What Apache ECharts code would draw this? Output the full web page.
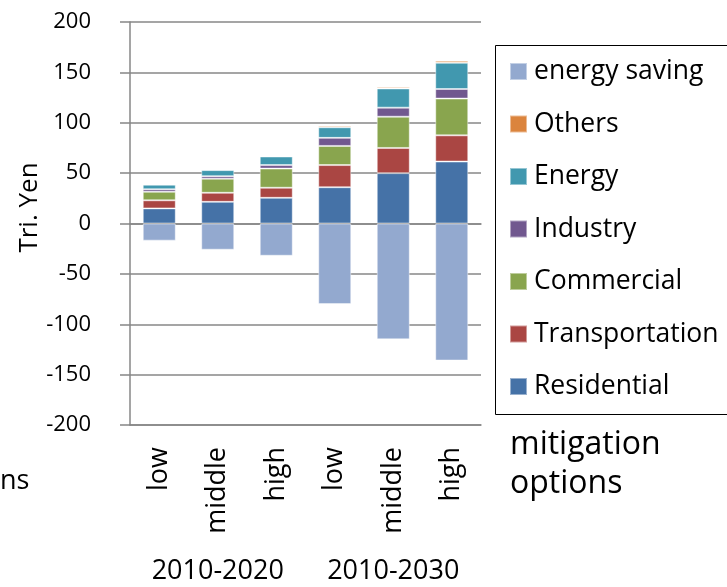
<!DOCTYPE html>
<html>
<head>
<meta charset="utf-8">
<script src="https://cdn.jsdelivr.net/npm/echarts@6/dist/echarts.min.js"></script>
<style>
    html, body { margin: 0; padding: 0; background: #fff; }
    #chart { width: 727px; height: 587px; }
</style>
</head>
<body>
<div id="chart"></div>
<script>
    // scenario categories (inner level) and period groups (outer level)
    var cases = ['low', 'middle', 'high', 'low', 'middle', 'high'];
    var periods = ['2010-2020', '2010-2030'];

    // Tri. Yen
    var residential = [15, 21.5, 25.5, 36, 50, 61.5];
    var transportation = [8, 9, 10, 22, 25, 26];
    var commercial = [8.5, 14, 19, 19, 31, 36.5];
    var industry = [2.5, 2.5, 3.5, 8, 9, 9.5];
    var energy = [4.5, 6, 8.5, 10.5, 19, 26];
    var others = [0.5, 0.5, 1, 1.5, 1.5, 2];
    var energySaving = [-17, -26, -32, -80, -115, -136];

    var yTicks = { min: -200, max: 200, step: 50 };

    var font = 'Open Sans';
    var grey = '#878787';

    function barSeries(name, data, color) {
        return {
            name: name,
            type: 'bar',
            stack: 'total',
            barWidth: 33,
            data: data,
            itemStyle: { color: color, borderColor: 'rgba(255,255,255,0.45)', borderWidth: 1 }
        };
    }

    var chart = echarts.init(document.getElementById('chart'));
    chart.setOption({
        animation: false,
        textStyle: { fontFamily: font },
        grid: { left: 130, right: 246, top: 22, bottom: 162 },
        legend: {
            orient: 'vertical',
            left: 495,
            top: 45,
            padding: [13, 10, 17, 14],
            itemWidth: 17,
            itemHeight: 17,
            itemGap: 25.5,
            icon: 'rect',
            textStyle: { fontFamily: font, fontSize: 26.5, color: '#000', padding: [0, 0, 0, 2] },
            data: ['energy saving', 'Others', 'Energy', 'Industry', 'Commercial', 'Transportation', 'Residential']
        },
        xAxis: [
            {
                type: 'category',
                data: cases,
                position: 'bottom',
                axisLine: { onZero: true, lineStyle: { color: grey, width: 1.5 } },
                axisTick: { length: 9, lineStyle: { color: grey, width: 1.5 } },
                axisLabel: { show: false }
            },
            {
                type: 'category',
                data: cases,
                position: 'bottom',
                axisLine: { onZero: false, lineStyle: { color: grey, width: 1.5 } },
                axisTick: { length: 108, lineStyle: { color: grey, width: 1 } },
                axisLabel: { rotate: 90, margin: 22, fontSize: 27, color: '#000', fontFamily: font }
            },
            {
                type: 'category',
                data: periods,
                position: 'bottom',
                axisLine: { onZero: false, show: false },
                axisTick: { length: 162, lineStyle: { color: grey, width: 1 } },
                axisLabel: { margin: 133, fontSize: 27, color: '#000', fontFamily: font }
            }
        ],
        yAxis: {
            type: 'value',
            min: yTicks.min,
            max: yTicks.max,
            interval: yTicks.step,
            name: 'Tri. Yen',
            nameLocation: 'middle',
            nameGap: 86,
            nameTextStyle: { fontSize: 26, color: '#000', fontFamily: font, padding: [0, 0, 0, 32] },
            axisLine: { show: true, lineStyle: { color: grey, width: 1.5 } },
            axisTick: { show: true, length: 10, lineStyle: { color: grey, width: 1.5 } },
            axisLabel: { margin: 39, fontSize: 22, color: '#000', fontFamily: font },
            splitLine: { lineStyle: { color: grey, width: 1.5 } }
        },
        graphic: [
            // legend frame, its right side runs off the picture
            { type: 'rect', shape: { x: 495.5, y: 45.5, width: 260, height: 369 }, style: { fill: 'none', stroke: '#000', lineWidth: 1 } },
            { type: 'text', left: 510, top: 429, style: { text: 'mitigation', font: '32px "Open Sans"', fill: '#000' } },
            { type: 'text', left: 510, top: 468, style: { text: 'options', font: '32px "Open Sans"', fill: '#000' } },
            { type: 'text', left: 0, top: 468, style: { text: 'ns', font: '27px "Open Sans"', fill: '#000' } }
        ],
        series: [
            barSeries('Residential', residential, '#4572A7'),
            barSeries('Transportation', transportation, '#AA4643'),
            barSeries('Commercial', commercial, '#89A54E'),
            barSeries('Industry', industry, '#71588F'),
            barSeries('Energy', energy, '#4198AF'),
            barSeries('Others', others, '#DB843D'),
            barSeries('energy saving', energySaving, '#93A9CF')
        ]
    });
</script>
</body>
</html>
